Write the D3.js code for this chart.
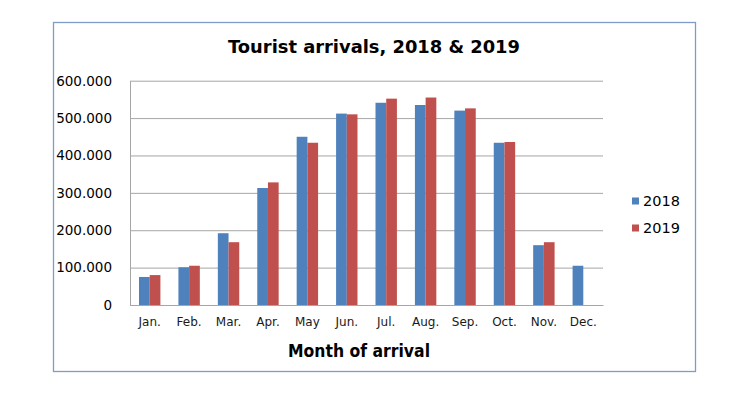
<!DOCTYPE html>
<html>
<head>
<meta charset="utf-8">
<script src="https://cdn.jsdelivr.net/npm/d3@7"></script>
<style>
  body { margin: 0; background: #fff; }
  svg { display: block; }
</style>
</head>
<body>
<svg id="chart"></svg>
<script>
// data
const months = ["Jan.", "Feb.", "Mar.", "Apr.", "May", "Jun.", "Jul.", "Aug.", "Sep.", "Oct.", "Nov.", "Dec."];
const arrivals2018 = [75000, 101000, 192000, 313000, 450000, 512000, 541000, 535000, 520000, 434000, 160000, 105000];
const arrivals2019 = [80000, 105000, 168000, 328000, 434000, 510000, 552000, 555000, 526000, 436000, 168000, null];
const series = ["2018", "2019"];
const yTicks = [0, 100000, 200000, 300000, 400000, 500000, 600000];

const colors = { "2018": "#4F81BD", "2019": "#C0504D" };

const W = 740, H = 413;
const plot = { left: 130, right: 603, top: 80.7, bottom: 305 };

const svg = d3.select("#chart").attr("width", W).attr("height", H);

// outer frame
svg.append("rect")
    .attr("x", 53.5).attr("y", 22.5)
    .attr("width", 642).attr("height", 349)
    .attr("fill", "#fff")
    .attr("stroke", "#7F9CC6")
    .attr("stroke-width", 1.3);

const x = d3.scaleBand()
    .domain(months)
    .range([plot.left, plot.right])
    .paddingInner(0.457)
    .paddingOuter(0.2285);

const xs = d3.scaleBand()
    .domain(series)
    .range([0, x.bandwidth()]);

const y = d3.scaleLinear()
    .domain([0, 600000])
    .range([plot.bottom, plot.top]);

const loc = d3.formatLocale({ decimal: ",", thousands: ".", grouping: [3], currency: ["", ""] });
const fmt = loc.format(",d");

// gridlines
svg.append("g")
    .attr("transform", `translate(${plot.left},0)`)
    .call(d3.axisLeft(y).tickValues(yTicks).tickSize(-(plot.right - plot.left)).tickFormat(""))
    .call(g => g.select(".domain").remove())
    .call(g => g.selectAll("line").attr("stroke", "#A6A6A6").attr("stroke-width", 1));

// bars
const rows = months.map((m, i) => ({ month: m, values: [arrivals2018[i], arrivals2019[i]] }));

svg.append("g").selectAll("g")
    .data(rows)
    .join("g")
      .attr("transform", d => `translate(${x(d.month)},0)`)
    .selectAll("rect")
    .data(d => series.map((s, j) => ({ key: s, value: d.values[j] })).filter(e => e.value != null))
    .join("rect")
      .attr("x", d => xs(d.key))
      .attr("y", d => y(d.value))
      .attr("width", xs.bandwidth())
      .attr("height", d => y(0) - y(d.value))
      .attr("fill", d => colors[d.key]);

// y axis
svg.append("g")
    .attr("transform", `translate(${plot.left},0)`)
    .call(d3.axisLeft(y).tickValues(yTicks).tickSize(0).tickPadding(18).tickFormat(fmt))
    .call(g => g.select(".domain").attr("stroke", "#A6A6A6"))
    .call(g => g.selectAll("text")
        .attr("font-family", "DejaVu Sans, Verdana, sans-serif")
        .attr("font-size", 13.5)
        .attr("fill", "#000"));

// x axis
svg.append("g")
    .attr("transform", `translate(0,${plot.bottom})`)
    .call(d3.axisBottom(x).tickSize(0).tickPadding(12))
    .call(g => g.select(".domain").attr("stroke", "#A6A6A6"))
    .call(g => g.selectAll("text")
        .attr("font-family", "DejaVu Sans, Verdana, sans-serif")
        .attr("font-size", 12)
        .attr("fill", "#1a1a1a"));

// title
svg.append("text")
    .attr("x", 374).attr("y", 52.7)
    .attr("text-anchor", "middle")
    .attr("font-family", "DejaVu Sans, Verdana, sans-serif")
    .attr("font-weight", "bold")
    .attr("font-size", 17)
    .attr("textLength", 292)
    .attr("lengthAdjust", "spacingAndGlyphs")
    .text("Tourist arrivals, 2018 & 2019");

// x axis title
svg.append("text")
    .attr("x", 359).attr("y", 356.7)
    .attr("text-anchor", "middle")
    .attr("font-family", "DejaVu Sans, Verdana, sans-serif")
    .attr("font-weight", "bold")
    .attr("font-size", 17)
    .attr("textLength", 142)
    .attr("lengthAdjust", "spacingAndGlyphs")
    .text("Month of arrival");

// legend
const legend = svg.append("g")
    .selectAll("g")
    .data(series)
    .join("g")
      .attr("transform", (d, i) => `translate(632,${201 + i * 27})`);

legend.append("rect")
    .attr("x", 0).attr("y", -3.5)
    .attr("width", 7).attr("height", 7)
    .attr("fill", d => colors[d]);

legend.append("text")
    .attr("x", 11).attr("y", 0)
    .attr("dy", "0.36em")
    .attr("font-family", "DejaVu Sans, Verdana, sans-serif")
    .attr("font-size", 14.5)
    .attr("fill", "#000")
    .text(d => d);
</script>
</body>
</html>
